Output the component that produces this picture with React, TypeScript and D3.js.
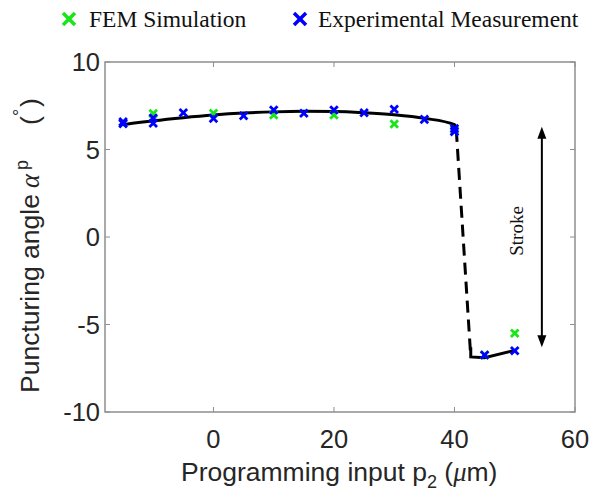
import React from 'react';
import * as d3 from 'd3';

// values
const xTicks = [0, 20, 40, 60];
const yTicks = [-10, -5, 0, 5, 10];

const femX = [-15, -10, 0, 10, 20, 30, 40, 45, 50];
const femY = [6.5, 7.05, 7.07, 6.97, 6.97, 6.46, 6.1, -6.74, -5.5];

const expX = [-15, -15, -10, -10, -5, 0, 5, 10, 15, 20, 25, 30, 35, 40, 40, 45, 50];
const expY = [6.58, 6.48, 6.8, 6.5, 7.1, 6.78, 6.93, 7.26, 7.07, 7.26, 7.1, 7.3, 6.72, 6.2, 6.02, -6.74, -6.5];

const fitX = [-15, -10, -5, 0, 5, 10, 15, 20, 25, 30, 35, 40, 40.3];
const fitY = [6.42, 6.64, 6.82, 6.97, 7.08, 7.15, 7.18, 7.17, 7.1, 6.98, 6.78, 6.42, 6.12];

const jumpX = [40.3, 42.7];
const jumpY = [6.12, -6.85];

const lowX = [42.7, 42.7, 45, 50];
const lowY = [-6.3, -6.85, -6.9, -6.48];

const strokeX = 54.5;
const strokeRange = [6.3, -6.3];

const W = 592;
const H = 493;
const margin = { left: 105, right: 17, top: 62, bottom: 81 };
const axisColor = '#8f8f8f';
const textColor = '#262626';
const green = '#19e619';
const blue = '#0000ff';

const x = d3.scaleLinear().domain([-18, 60]).range([margin.left, W - margin.right]);
const y = d3.scaleLinear().domain([-10, 10]).range([H - margin.bottom, margin.top]);

const Cross = ({ cx, cy, r, color, w }: { cx: number; cy: number; r: number; color: string; w: number }) => (
  <g stroke={color} strokeWidth={w}>
    <line x1={cx - r} y1={cy - r} x2={cx + r} y2={cy + r} />
    <line x1={cx - r} y1={cy + r} x2={cx + r} y2={cy - r} />
  </g>
);

export default function App() {
  const path = (xs: number[], ys: number[], curve = d3.curveLinear) =>
    d3.line<number>()
      .x(i => x(xs[i]))
      .y(i => y(ys[i]))
      .curve(curve)(xs.map((_, i) => i)) as string;

  const x0 = x.range()[0], x1 = x.range()[1];
  const y0 = y.range()[0], y1 = y.range()[1];
  const ax = x(strokeX);
  const aTop = y(strokeRange[0]);
  const aBot = y(strokeRange[1]);

  return (
    <svg width={W} height={H} style={{ position: 'absolute', left: 0, top: 0, background: '#fff' }}>
      {/* legend */}
      <Cross cx={69} cy={19} r={6} color={green} w={3.5} />
      <text x={89} y={27} fontFamily="Liberation Serif" fontSize={23.5} fill="#111">FEM Simulation</text>
      <Cross cx={300} cy={19} r={6} color={blue} w={3.5} />
      <text x={318} y={27} fontFamily="Liberation Serif" fontSize={23.5} fill="#111">Experimental Measurement</text>

      {/* axes box */}
      <rect x={x0} y={y1} width={x1 - x0} height={y0 - y1} fill="none" stroke={axisColor} strokeWidth={1.5} />
      {xTicks.map(t => (
        <g key={'xt' + t}>
          <line x1={x(t)} x2={x(t)} y1={y0} y2={y0 - 5} stroke={axisColor} />
          <line x1={x(t)} x2={x(t)} y1={y1} y2={y1 + 5} stroke={axisColor} />
          <text x={x(t)} y={448} textAnchor="middle" fontFamily="Liberation Sans" fontSize={25.5} fill={textColor}>{t}</text>
        </g>
      ))}
      {yTicks.map(t => (
        <g key={'yt' + t}>
          <line x1={x0} x2={x0 + 5} y1={y(t)} y2={y(t)} stroke={axisColor} />
          <line x1={x1} x2={x1 - 5} y1={y(t)} y2={y(t)} stroke={axisColor} />
          <text x={100} y={y(t) + 9} textAnchor="end" fontFamily="Liberation Sans" fontSize={25.5} fill={textColor}>{t}</text>
        </g>
      ))}

      {/* axis labels */}
      <text x={181} y={481} fontFamily="Liberation Sans" fontSize={26.5} fill={textColor}>
        Programming input p
        <tspan fontSize={18} dy={7}>2</tspan>
        <tspan dy={-7}> (</tspan>
        <tspan fontFamily="Liberation Serif" fontStyle="italic">μ</tspan>
        <tspan>m)</tspan>
      </text>
      <text transform="translate(39,393) rotate(-90)" fontFamily="Liberation Sans" fontSize={26.5} fill={textColor}>
        Puncturing angle
        <tspan x={205} fontFamily="Liberation Serif" fontStyle="italic">α</tspan>
        <tspan x={223} fontSize={18} dy={-11}>p</tspan>
        <tspan x={268} dy={11}>(</tspan>
        <tspan x={277} fontSize={18} dy={-13}>°</tspan>
        <tspan x={286} dy={13}>)</tspan>
      </text>

      {/* fitted curve */}
      <path d={path(fitX, fitY, d3.curveMonotoneX)} fill="none" stroke="#000" strokeWidth={3} strokeLinejoin="round" />
      <path d={path(jumpX, jumpY)} fill="none" stroke="#000" strokeWidth={3} strokeDasharray="12 7" />
      <path d={path(lowX, lowY)} fill="none" stroke="#000" strokeWidth={3} />

      {/* markers */}
      {femX.map((v, i) => (
        <Cross key={'f' + i} cx={x(v)} cy={y(femY[i])} r={3.8} color={green} w={2.8} />
      ))}
      {expX.map((v, i) => (
        <Cross key={'e' + i} cx={x(v)} cy={y(expY[i])} r={3.8} color={blue} w={2.8} />
      ))}

      {/* stroke annotation */}
      <line x1={ax} x2={ax} y1={aTop + 10} y2={aBot - 10} stroke="#000" strokeWidth={2} />
      <path d={`M${ax},${aTop} L${ax - 4.5},${aTop + 12} L${ax + 4.5},${aTop + 12} Z`} fill="#000" />
      <path d={`M${ax},${aBot} L${ax - 4.5},${aBot - 12} L${ax + 4.5},${aBot - 12} Z`} fill="#000" />
      <text transform={`translate(523,${(aTop + aBot) / 2 - 6}) rotate(-90)`} textAnchor="middle" fontFamily="Liberation Serif" fontSize={19} fill="#111">Stroke</text>
    </svg>
  );
}
